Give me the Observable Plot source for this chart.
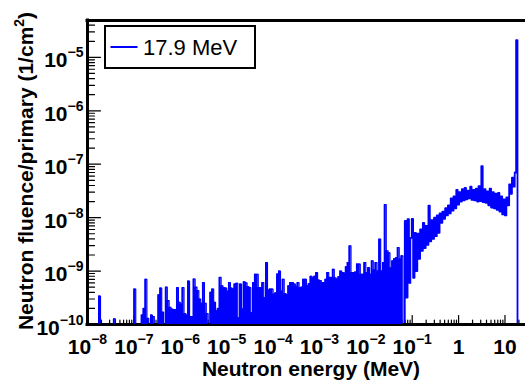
<!DOCTYPE html>
<html>
<head>
<meta charset="utf-8">
<script src="https://cdn.jsdelivr.net/npm/d3@7"></script>
<script src="https://cdn.jsdelivr.net/npm/@observablehq/plot@0.6"></script>
<style>
html,body{margin:0;padding:0;background:#fff;overflow:hidden;}
#chart{width:525px;height:382px;}
</style>
</head>
<body>
<div id="chart"></div>
<script>
// ---------------- data ----------------
const legendLabel = "17.9 MeV";
const xTitle = "Neutron energy (MeV)";
const yTitleMain = "Neutron fluence/primary (1/cm";
const yTitleSup = "2";
const yTitleEnd = ")";

// fluence values are in units of 1e-10 (1/cm²) per primary; 0 = empty bin
const fluenceUnit = 1e-10;

// low-statistics part: bins of 0.04 decade starting at 1e-8 MeV
const lowLog10Start = -8;
const lowLog10Width = 0.04;
const lowFluence = [
  0,0,0,0,0,0,3.4,0,0,0,
  0,0,0,0,1.27,0,0,0,0,0,
  0,0,0,0,0,4.6,0,0,0,1.5,
  2.0,7.0,1.3,0,1.5,1.4,0,0,3.6,4.8,
  1.7,0,5.0,2.8,2.1,1.95,1.9,1.9,4.9,2.6,
  2.4,4.9,1.6,1.5,6.5,1.4,1.4,7.1,5.0,4.3,
  3.0,2.5,6.1,2.5,1.6,0,4.0,4.6,2.6,1.8,
  2.0,7.6,5.3,4.9,4.8,4.2,6.1,4.8,4.6,5.7,
  5.9,1.34,5.7,1.95,6.3,6.0,5.1,4.9,1.66,6.1,
  8.7,8.7,4.9,4.9,6.1,3.2,14.4,4.4,4.6,4.6,
  3.7,3.9,8.8,10,4.2,7.0,3.8,3.6,5.3,6.1,
  6.1,5.7,5.2,6.1,4.9,5.0,7.0,7.0,5.3,5.8,
  8.0,7.5,8.0,9.4,6.8,6.6,6.1,6.1,7.0,9.4,
  7.6,7.6,10.8,7.5,7.0,7.8,10,9.4,9.2,12,
  14.4,29.6,9.4,9.4,9.6,13.5,13.5,8.7,8.7,14.4,
  9.4,11.6,8.7,15.5,10.5,14.4,10,39.6,10,14.4,
  175,24,22,11.5,15.5,17,17.9,27.6,16.7,19.3,0
];

// fast-neutron part: bins of 0.03 decade starting at 10^-1.16 MeV
const bandLog10Start = -1.16;
const bandLog10Width = 0.03;
const bandFluence = [
  87,3.2,94,6.0,42,95,7.5,52,10,50,
  17,60,24,80,27,70,31,167,36,90,
  40,100,45,110,52,120,80,130,95,150,
  110,170,120,230,135,250,150,330,175,300,
  200,340,210,360,220,320,230,380,215,330,
  210,350,200,390,205,920,195,340,190,310,
  170,350,155,300,150,280,140,290,130,250,
  115,220,110,240,170,420,280,560,380,700,
  210000,0,0
];

const xTickValues = [1e-8,1e-7,1e-6,1e-5,1e-4,1e-3,1e-2,1e-1,1,10];
const xTickLabels = ["10^\u22128","10^\u22127","10^\u22126","10^\u22125","10^\u22124","10^\u22123","10^\u22122","10^\u22121","1","10"];
const yTickValues = [1e-10,1e-9,1e-8,1e-7,1e-6,1e-5];
const yTickLabels = ["10^\u221210","10^\u22129","10^\u22128","10^\u22127","10^\u22126","10^\u22125"];

const xDomain = [1e-8, 27.7];
const yDomain = [1e-10, 4.9e-5];

// ---------------- build ----------------
const FONT = "'Liberation Sans', Arial, Helvetica, sans-serif";
const BLUE = "#0000ff";

function bins(start, width, values) {
  return values.map((v, i) => ({
    x1: 10 ** (start + i * width),
    x2: 10 ** (start + (i + 1) * width),
    y: v > 0 ? v * fluenceUnit : yDomain[0]
  }));
}
const lowBins = bins(lowLog10Start, lowLog10Width, lowFluence);
const bandBins = bins(bandLog10Start, bandLog10Width, bandFluence);
const steps = b => b.flatMap(d => [{x: d.x1, y: d.y}, {x: d.x2, y: d.y}]);
const lowPts = steps(lowBins);
const bandPts = [{x: bandBins[0].x1, y: yDomain[0]}, ...steps(bandBins)];

function minorTicks([lo, hi]) {
  const out = [];
  for (let e = Math.floor(Math.log10(lo)); e <= Math.ceil(Math.log10(hi)); e++)
    for (let m = 2; m <= 9; m++) { const v = m * 10 ** e; if (v > lo && v < hi) out.push(v); }
  return out;
}

const tickShape = {draw(ctx, l) { ctx.moveTo(0, 0); ctx.lineTo(0, -l); }};
const tickOpts = {anchor: "start", shape: tickShape, stroke: "#000", strokeWidth: 1.2};
const frameOpts = {stroke: "#000", strokeWidth: 3, strokeLinecap: "square"};

const chart = Plot.plot({
  width: 525, height: 382,
  marginLeft: 87, marginRight: 0, marginTop: 20, marginBottom: 58,
  x: {type: "log", domain: xDomain, axis: null},
  y: {type: "log", domain: yDomain, axis: null},
  style: {fontFamily: FONT, background: "#fff"},
  marks: [
    Plot.vector(yTickValues, {y: d => d, frameAnchor: "left", length: 13, rotate: 90, ...tickOpts}),
    Plot.vector(minorTicks(yDomain), {y: d => d, frameAnchor: "left", length: 7, rotate: 90, ...tickOpts}),
    Plot.vector(xTickValues, {x: d => d, frameAnchor: "bottom", length: 9, rotate: 0, ...tickOpts}),
    Plot.vector(minorTicks(xDomain), {x: d => d, frameAnchor: "bottom", length: 4.5, rotate: 0, ...tickOpts}),
    Plot.line(lowPts, {x: "x", y: "y", stroke: BLUE, strokeWidth: 1.2}),
    Plot.line(bandPts, {x: "x", y: "y", stroke: BLUE, strokeWidth: 1.8}),
    Plot.ruleY([yDomain[1]], frameOpts),
    Plot.ruleY([yDomain[0]], frameOpts),
    Plot.ruleX([xDomain[0]], frameOpts),
    Plot.area(lowPts, {x1: "x", y1: () => yDomain[0], y2: "y", fill: BLUE}),
    Plot.text(yTickLabels, {y: (d, i) => yTickValues[i], text: d => d, frameAnchor: "left", dx: -4, dy: 10,
      textAnchor: "end", lineAnchor: "bottom", fontSize: 21, fontWeight: "bold", fill: "#000"}),
    Plot.text(xTickLabels, {x: (d, i) => xTickValues[i], text: d => d, frameAnchor: "bottom", dy: 29,
      textAnchor: "middle", lineAnchor: "bottom", fontSize: 21, fontWeight: "bold", fill: "#000"})
  ]
});

document.getElementById("chart").appendChild(chart);
const svg = d3.select(chart);

// superscript exponents in tick labels
svg.selectAll("text").each(function () {
  const s = this.textContent;
  const k = s.indexOf("^");
  if (k > 0) {
    this.textContent = s.slice(0, k);
    d3.select(this).append("tspan").attr("dy", -10).attr("font-size", 14).text(s.slice(k + 1));
  }
});

// axis titles
const g = svg.append("g").attr("font-family", FONT).attr("fill", "#000");
g.append("text").attr("x", 311).attr("y", 376).attr("text-anchor", "middle")
  .attr("font-size", 21).attr("font-weight", "bold").text(xTitle);
const yt = g.append("text").attr("transform", "translate(33,171) rotate(-90)")
  .attr("text-anchor", "middle").attr("font-size", 21).attr("font-weight", "bold");
yt.append("tspan").text(yTitleMain);
yt.append("tspan").attr("dy", -9).attr("font-size", 14).text(yTitleSup);
yt.append("tspan").attr("dy", 9).text(yTitleEnd);

// legend
const lg = svg.append("g").attr("font-family", FONT).attr("text-anchor", "start");
lg.append("rect").attr("x", 105).attr("y", 26).attr("width", 150).attr("height", 42)
  .attr("fill", "#fff").attr("stroke", "#000").attr("stroke-width", 2);
lg.append("line").attr("x1", 110.5).attr("x2", 137.5).attr("y1", 47).attr("y2", 47)
  .attr("stroke", BLUE).attr("stroke-width", 2);
lg.append("text").attr("x", 143).attr("y", 55).attr("font-size", 22).attr("fill", "#000")
  .attr("text-anchor", "start").text(legendLabel);
</script>
</body>
</html>
